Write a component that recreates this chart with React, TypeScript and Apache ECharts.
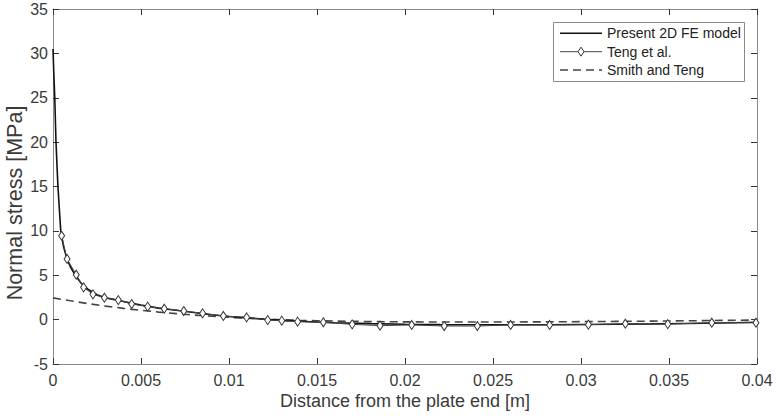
import React, { useEffect, useRef } from "react";
import * as echarts from "echarts";

const feX = [0, 0.00005, 0.0001, 0.00017, 0.00028, 0.00044, 0.0006, 0.0008, 0.001, 0.0013, 0.0016, 0.002, 0.0025, 0.003, 0.0035, 0.004, 0.005, 0.006, 0.007, 0.008, 0.009, 0.01, 0.011, 0.012, 0.013, 0.014, 0.015, 0.016, 0.018, 0.02, 0.022, 0.024, 0.026, 0.028, 0.03, 0.032, 0.034, 0.036, 0.038, 0.04];
const feY = [30.5, 27.5, 25, 20, 15, 10, 8.2, 6.8, 5.9, 4.9, 4.1, 3.4, 2.8, 2.45, 2.25, 2.05, 1.65, 1.3, 1.05, 0.8, 0.55, 0.35, 0.2, 0.05, -0.08, -0.18, -0.27, -0.35, -0.45, -0.52, -0.56, -0.58, -0.58, -0.57, -0.55, -0.52, -0.48, -0.43, -0.38, -0.3];

const tengX = [0.00049, 0.0008, 0.00132, 0.00174, 0.00227, 0.00292, 0.00371, 0.00447, 0.00538, 0.00632, 0.00743, 0.0085, 0.00968, 0.011, 0.0122, 0.013, 0.0139, 0.01536, 0.017, 0.01858, 0.02038, 0.02223, 0.02411, 0.026, 0.02822, 0.03042, 0.03252, 0.03493, 0.03743, 0.03994];
const tengY = [9.45, 6.83, 5.06, 3.64, 2.85, 2.47, 2.2, 1.76, 1.46, 1.23, 0.97, 0.71, 0.41, 0.26, -0.05, -0.12, -0.23, -0.3, -0.53, -0.68, -0.6, -0.72, -0.72, -0.6, -0.6, -0.57, -0.46, -0.5, -0.35, -0.35];

const smithX = [0, 0.001, 0.002, 0.003, 0.004, 0.005, 0.006, 0.007, 0.008, 0.009, 0.01, 0.011, 0.012, 0.013, 0.014, 0.015, 0.016, 0.018, 0.02, 0.022, 0.025, 0.028, 0.03, 0.032, 0.034, 0.036, 0.038, 0.04];
const smithY = [2.45, 2.12, 1.8, 1.52, 1.27, 1.05, 0.85, 0.68, 0.52, 0.38, 0.26, 0.15, 0.06, -0.01, -0.07, -0.12, -0.16, -0.22, -0.25, -0.27, -0.27, -0.25, -0.23, -0.2, -0.17, -0.13, -0.09, -0.05];

const seriesNames = ["Present 2D FE model", "Teng et al.", "Smith and Teng"];
const xAxisTitle = "Distance from the plate end [m]";
const yAxisTitle = "Normal stress [MPa]";

const FONT = "Arial, 'Liberation Sans', Helvetica, sans-serif";
const TEXT = "#3a3a3a";
const AXIS = "#8a8a8a";
const FE_COLOR = "#111";
const TENG_COLOR = "#444";
const SMITH_COLOR = "#444";

const zip = (xs: number[], ys: number[]) => xs.map((x, i) => [x, ys[i]]);

function legendGraphic() {
  const left = 553.5;
  const top = 22.5;
  const rows = [33.3, 51.7, 70];
  const x0 = 560;
  const x1 = 602;
  const tx = 607;
  const els: any[] = [
    {
      type: "rect",
      shape: { x: left, y: top, width: 191, height: 59 },
      style: { fill: "#fff", stroke: AXIS, lineWidth: 1 },
      z: 100,
    },
    {
      type: "line",
      shape: { x1: x0, y1: rows[0], x2: x1, y2: rows[0] },
      style: { stroke: FE_COLOR, lineWidth: 1.6 },
      z: 101,
    },
    {
      type: "line",
      shape: { x1: x0, y1: rows[1], x2: x1, y2: rows[1] },
      style: { stroke: TENG_COLOR, lineWidth: 1 },
      z: 101,
    },
    {
      type: "polygon",
      shape: {
        points: [
          [581, rows[1] - 4.5],
          [584, rows[1]],
          [581, rows[1] + 4.5],
          [578, rows[1]],
        ],
      },
      style: { fill: "#fff", stroke: "#333", lineWidth: 1 },
      z: 102,
    },
    {
      type: "line",
      shape: { x1: x0, y1: rows[2], x2: x1, y2: rows[2] },
      style: { stroke: SMITH_COLOR, lineWidth: 1.6, lineDash: [8, 5] },
      z: 101,
    },
  ];
  seriesNames.forEach((name, i) => {
    els.push({
      type: "text",
      x: tx,
      y: rows[i],
      style: {
        text: name,
        fontSize: 14,
        fontFamily: FONT,
        fill: "#222",
        align: "left",
        verticalAlign: "middle",
      },
      z: 102,
    });
  });
  return els;
}

export default function App() {
  const ref = useRef<HTMLDivElement>(null);
  useEffect(() => {
    if (!ref.current) return;
    const chart = echarts.init(ref.current, undefined, { renderer: "svg" });
    const xCommon = {
      type: "value" as const,
      min: 0,
      max: 0.04,
      interval: 0.005,
      splitLine: { show: false },
      axisLine: { onZero: false, lineStyle: { color: AXIS, width: 1 } },
      axisTick: { inside: true, length: 6, lineStyle: { color: "#333" } },
    };
    const yCommon = {
      type: "value" as const,
      min: -5,
      max: 35,
      interval: 5,
      splitLine: { show: false },
      axisLine: { onZero: false, lineStyle: { color: AXIS, width: 1 } },
      axisTick: { inside: true, length: 6, lineStyle: { color: "#333" } },
    };
    chart.setOption({
      animation: false,
      backgroundColor: "#fff",
      textStyle: { fontFamily: FONT },
      grid: { left: 53, right: 20, top: 9, bottom: 52, containLabel: false },
      xAxis: [
        {
          ...xCommon,
          position: "bottom",
          axisLabel: { color: TEXT, fontSize: 16, fontFamily: FONT, margin: 8 },
        },
        { ...xCommon, position: "top", axisLabel: { show: false } },
      ],
      yAxis: [
        {
          ...yCommon,
          position: "left",
          axisLabel: { color: TEXT, fontSize: 16, fontFamily: FONT, margin: 5 },
        },
        { ...yCommon, position: "right", axisLabel: { show: false } },
      ],
      graphic: [
        {
          type: "text",
          x: 405,
          y: 401,
          style: {
            text: xAxisTitle,
            fontSize: 18,
            fontFamily: FONT,
            fill: TEXT,
            align: "center",
            verticalAlign: "middle",
          },
        },
        {
          type: "text",
          x: 15,
          y: 203,
          rotation: Math.PI / 2,
          style: {
            text: yAxisTitle,
            fontSize: 21.5,
            fontFamily: FONT,
            fill: TEXT,
            align: "center",
            verticalAlign: "middle",
          },
        },
        ...legendGraphic(),
      ],
      series: [
        {
          name: seriesNames[0],
          type: "line",
          data: zip(feX, feY),
          symbol: "none",
          lineStyle: { color: FE_COLOR, width: 1.6 },
          itemStyle: { color: FE_COLOR },
          z: 3,
        },
        {
          name: seriesNames[1],
          type: "line",
          data: zip(tengX, tengY),
          symbol: "diamond",
          symbolSize: [6, 9],
          lineStyle: { color: TENG_COLOR, width: 1 },
          itemStyle: { color: "#fff", borderColor: "#333", borderWidth: 1 },
          z: 4,
        },
        {
          name: seriesNames[2],
          type: "line",
          data: zip(smithX, smithY),
          symbol: "none",
          lineStyle: { color: SMITH_COLOR, width: 1.6, type: [8, 5] },
          itemStyle: { color: SMITH_COLOR },
          z: 2,
        },
      ],
    });
    return () => chart.dispose();
  }, []);
  return (
    <div
      ref={ref}
      style={{ position: "absolute", left: 0, top: 0, width: 777, height: 416 }}
    />
  );
}
